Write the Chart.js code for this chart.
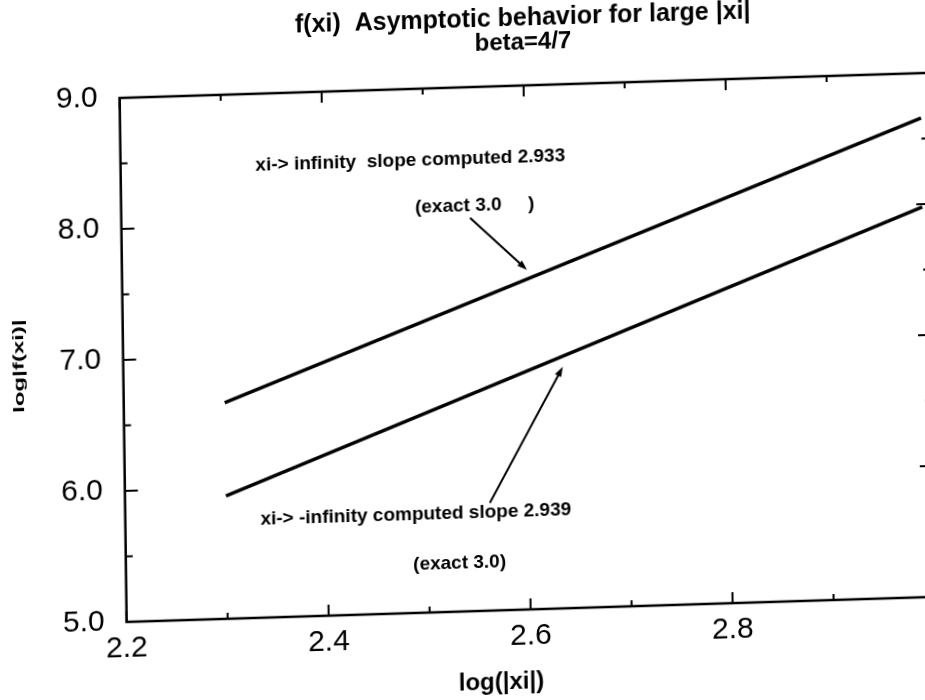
<!DOCTYPE html>
<html>
<head>
<meta charset="utf-8">
<title>f(xi) asymptotic behavior</title>
<script src="https://cdn.jsdelivr.net/npm/chart.js@4.4.1/dist/chart.umd.min.js"></script>
<style>
  html, body { margin: 0; padding: 0; background: #fff; overflow: hidden; }
  /* the plotted sheet sits slightly skewed on the page */
  #wrap {
    position: absolute; left: 0; top: 0;
    width: 960px; height: 720px;
    transform-origin: 126px 622px;
    transform: matrix(1, -0.031, 0.0134, 1, 0, 0);
  }
</style>
</head>
<body>
<div id="wrap"><canvas id="asymChart" width="960" height="720"></canvas></div>
<script>
// log|xi| sample points and log|f(xi)| for both directions
const logXi = [2.3, 2.993];
const posInfinity = [6.65, 8.657];
const negInfinity = [5.938, 7.978];

// labelled ticks
const xTickLabels = [2.2, 2.4, 2.6, 2.8];
const yTickLabels = [5.0, 6.0, 7.0, 8.0, 9.0];

const FONT = "'Liberation Sans', Arial, Helvetica, sans-serif";

// text notes and arrows, placed in data coordinates
const notes = [
  { text: "xi-> infinity  slope computed 2.933", x: 2.3335, y: 8.455 },
  { text: "(exact 3.0     )", x: 2.491, y: 8.095 },
  { text: "xi-> -infinity computed slope 2.939", x: 2.3338, y: 5.75 },
  { text: "(exact 3.0)", x: 2.4844, y: 5.365 },
];
const arrows = [
  { from: [2.5453, 8.002], to: [2.6009, 7.592] },
  { from: [2.5611, 5.822], to: [2.6351, 6.844] },
];

function isLabelled(list, v) {
  return list.some(t => Math.abs(t - v) < 1e-6);
}

// frame with inward ticks, titles, notes and arrows
const framePlugin = {
  id: "framePlugin",
  afterDatasetsDraw(chart) {
    const ctx = chart.ctx;
    const area = chart.chartArea;
    const xs = chart.scales.x;
    const ys = chart.scales.y;
    ctx.save();
    ctx.strokeStyle = "#000";
    ctx.fillStyle = "#000";

    // box
    ctx.lineWidth = 2.5;
    ctx.strokeRect(area.left, area.top, area.right - area.left, area.bottom - area.top);

    // inward ticks: majors from the scales, minors half way between
    ctx.lineWidth = 2;
    const xVals = xs.ticks.map(t => t.value);
    const yVals = ys.ticks.map(t => t.value);
    ctx.beginPath();
    xVals.forEach((v, i) => {
      const px = xs.getPixelForValue(v);
      ctx.moveTo(px, area.bottom); ctx.lineTo(px, area.bottom - 11);
      ctx.moveTo(px, area.top); ctx.lineTo(px, area.top + 11);
      if (i < xVals.length - 1) {
        const mx = xs.getPixelForValue((v + xVals[i + 1]) / 2);
        ctx.moveTo(mx, area.bottom); ctx.lineTo(mx, area.bottom - 6);
        ctx.moveTo(mx, area.top); ctx.lineTo(mx, area.top + 6);
      }
    });
    yVals.forEach((v, i) => {
      const py = ys.getPixelForValue(v);
      ctx.moveTo(area.left, py); ctx.lineTo(area.left + 13, py);
      ctx.moveTo(area.right, py); ctx.lineTo(area.right - 13, py);
      if (i < yVals.length - 1) {
        const my = ys.getPixelForValue((v + yVals[i + 1]) / 2);
        ctx.moveTo(area.left, my); ctx.lineTo(area.left + 7, my);
        ctx.moveTo(area.right, my); ctx.lineTo(area.right - 7, my);
      }
    });
    ctx.stroke();

    // notes
    ctx.font = "bold 19px " + FONT;
    ctx.textAlign = "left";
    ctx.textBaseline = "middle";
    notes.forEach(n => {
      ctx.fillText(n.text, xs.getPixelForValue(n.x), ys.getPixelForValue(n.y));
    });

    // arrows
    arrows.forEach(a => {
      const x0 = xs.getPixelForValue(a.from[0]), y0 = ys.getPixelForValue(a.from[1]);
      const x1 = xs.getPixelForValue(a.to[0]), y1 = ys.getPixelForValue(a.to[1]);
      const ang = Math.atan2(y1 - y0, x1 - x0);
      ctx.lineWidth = 2;
      ctx.beginPath();
      ctx.moveTo(x0, y0);
      ctx.lineTo(x1 - 6 * Math.cos(ang), y1 - 6 * Math.sin(ang));
      ctx.stroke();
      ctx.beginPath();
      ctx.moveTo(x1, y1);
      ctx.lineTo(x1 - 10 * Math.cos(ang) + 3.5 * Math.sin(ang), y1 - 10 * Math.sin(ang) - 3.5 * Math.cos(ang));
      ctx.lineTo(x1 - 10 * Math.cos(ang) - 3.5 * Math.sin(ang), y1 - 10 * Math.sin(ang) + 3.5 * Math.cos(ang));
      ctx.closePath();
      ctx.fill();
    });

    // titles
    const cx = (area.left + area.right) / 2;
    ctx.textAlign = "center";
    ctx.font = "bold 25px " + FONT;
    ctx.fillText("f(xi)  Asymptotic behavior for large |xi|", cx, area.top - 67);
    ctx.font = "bold 24px " + FONT;
    ctx.fillText("beta=4/7", cx, area.top - 43);

    // x axis title
    ctx.fillText("log(|xi|)", area.left + 374, area.bottom + 72);

    // y axis title, drawn wide
    ctx.translate(23, (area.top + area.bottom) / 2 + 3);
    ctx.rotate(-Math.PI / 2);
    ctx.scale(1.6, 1);
    ctx.font = "bold 15px " + FONT;
    ctx.fillText("log|f(xi)|", 0, 0);
    ctx.restore();
  }
};

const ctx = document.getElementById("asymChart").getContext("2d");
const asymChart = new Chart(ctx, {
  type: "line",
  data: {
    datasets: [
      {
        label: "xi -> infinity",
        data: logXi.map((x, i) => ({ x: x, y: posInfinity[i] })),
        borderColor: "#000",
        borderWidth: 3.5,
        pointRadius: 0,
        tension: 0,
      },
      {
        label: "xi -> -infinity",
        data: logXi.map((x, i) => ({ x: x, y: negInfinity[i] })),
        borderColor: "#000",
        borderWidth: 3.5,
        pointRadius: 0,
        tension: 0,
      },
    ],
  },
  options: {
    responsive: false,
    animation: false,
    layout: { padding: { left: 41, right: 25, top: 98, bottom: 44 } },
    plugins: {
      legend: { display: false },
      tooltip: { enabled: false },
    },
    scales: {
      x: {
        type: "linear",
        min: 2.2,
        max: 3.0,
        grid: { display: false, drawTicks: false },
        border: { display: false },
        ticks: {
          stepSize: 0.2,
          padding: 9,
          color: "#000",
          maxRotation: 0,
          font: { family: FONT, size: 30 },
          callback: v => (isLabelled(xTickLabels, v) ? v.toFixed(1) : ""),
        },
      },
      y: {
        min: 5,
        max: 9,
        grid: { display: false, drawTicks: false },
        border: { display: false },
        ticks: {
          stepSize: 1,
          padding: 22,
          color: "#000",
          font: { family: FONT, size: 30 },
          callback: v => (isLabelled(yTickLabels, v) ? v.toFixed(1) : ""),
        },
      },
    },
  },
  plugins: [framePlugin],
});
</script>
</body>
</html>
